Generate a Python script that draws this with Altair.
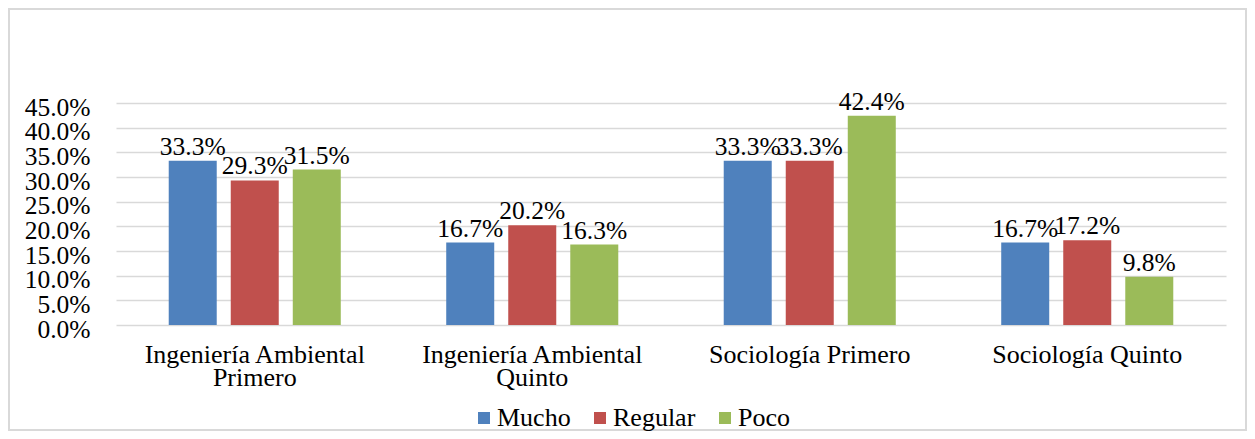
import altair as alt
import pandas as pd

categories = ["Ingeniería Ambiental|Primero", "Ingeniería Ambiental|Quinto",
              "Sociología Primero", "Sociología Quinto"]
series = ["Mucho", "Regular", "Poco"]
mucho = [0.333, 0.167, 0.333, 0.167]
regular = [0.293, 0.202, 0.333, 0.172]
poco = [0.315, 0.163, 0.424, 0.098]
colors = ["#4f81bd", "#c0504d", "#9bbb59"]
y_ticks = [0.0, 0.05, 0.10, 0.15, 0.20, 0.25, 0.30, 0.35, 0.40, 0.45]

rows = []
for s, vals in zip(series, [mucho, regular, poco]):
    for c, v in zip(categories, vals):
        rows.append({"cat": c, "serie": s, "val": v})
df = pd.DataFrame(rows)

FONT = "Liberation Serif"
FS = 25.5
W, H = 1110, 222

x_enc = alt.X("cat:N", sort=categories, title=None,
              scale=alt.Scale(paddingInner=0.38, paddingOuter=0.19),
              axis=alt.Axis(labelExpr="split(datum.label, '|')", labelAngle=0,
                            labelFontSize=26, labelFont=FONT, labelColor="#000000",
                            labelPadding=16, labelLineHeight=23, ticks=False,
                            domain=False, labelLimit=500, labelOverlap=False))
xoff = alt.XOffset("serie:N", sort=series,
                   scale=alt.Scale(paddingInner=0.226, paddingOuter=0))
y_enc = alt.Y("val:Q", title=None,
              scale=alt.Scale(domain=[0, 0.45], nice=False),
              axis=alt.Axis(values=y_ticks, format=".1%", labelFontSize=FS,
                            labelFont=FONT, labelColor="#000000", ticks=False,
                            domain=False, labelPadding=26, gridColor="#d9d9d9",
                            gridWidth=1.5, labelOverlap=False,
                            labelBaseline="alphabetic", labelOffset=12))

bars = alt.Chart(df).mark_bar().encode(
    x=x_enc, xOffset=xoff, y=y_enc,
    color=alt.Color("serie:N", sort=series,
                    scale=alt.Scale(domain=series, range=colors),
                    legend=alt.Legend(title=None, orient="none", legendX=355,
                                      legendY=302, direction="horizontal",
                                      symbolType="square", symbolSize=144,
                                      symbolStrokeWidth=0, labelFont=FONT,
                                      labelFontSize=26, labelColor="#000000",
                                      labelOffset=0, columnPadding=16)),
)

labels = alt.Chart(df).mark_text(baseline="alphabetic", dy=-6, fontSize=FS,
                                 font=FONT, color="#000000").encode(
    x=x_enc, xOffset=xoff, y=y_enc,
    text=alt.Text("val:Q", format=".1%"),
)

border = alt.Chart(alt.Data(values=[{"a": 1}])).mark_rect(
    fill="transparent", stroke="#d9d9d9", strokeWidth=2
).encode(x=alt.value(-107), x2=alt.value(W + 20), y=alt.value(-94),
         y2=alt.value(H + 105))

chart = alt.layer(border, bars, labels).properties(
    width=W, height=H,
    autosize=alt.AutoSizeParams(type="none"),
    padding={"left": 108, "top": 95, "right": 21, "bottom": 106},
    background="#ffffff",
).configure(font=FONT).configure_view(stroke=None)

chart.save("out.html", embed_options={"renderer": "svg", "actions": False})
